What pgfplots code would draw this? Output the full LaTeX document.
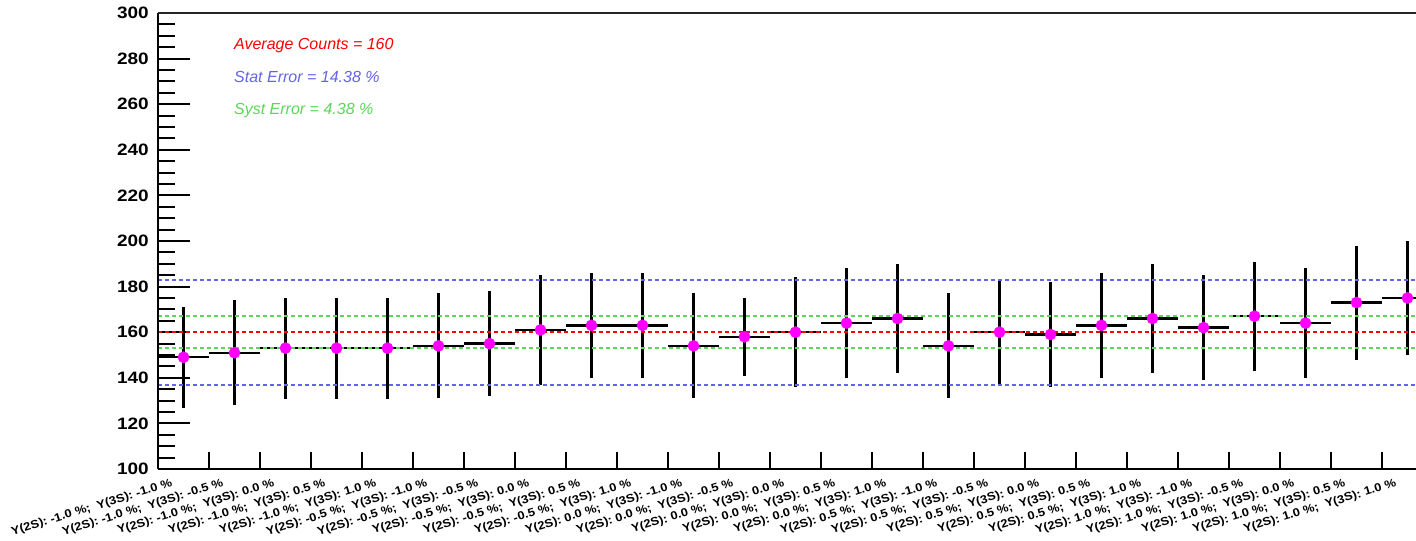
\documentclass[border=0pt]{standalone}
\usepackage{pgfplots}
\pgfplotsset{compat=1.18}
\usepackage{pgfplotstable}
\usepackage{fontspec}
\setmainfont{Liberation Sans}
\definecolor{statblue}{RGB}{100,100,230}
\definecolor{systgreen}{RGB}{90,215,90}
\definecolor{markmag}{RGB}{255,0,255}

% bin centre, counts, statistical error
\pgfplotstableread{
x     y    e
0.5   149  22.2
1.5   151  23.1
2.5   153  22.2
3.5   153  22.2
4.5   153  22.2
5.5   154  23.0
6.5   155  23.0
7.5   161  24.0
8.5   163  23.0
9.5   163  23.0
10.5  154  23.0
11.5  158  17.2
12.5  160  24.2
13.5  164  24.0
14.5  166  24.0
15.5  154  23.0
16.5  160  23.0
17.5  159  23.0
18.5  163  23.0
19.5  166  24.0
20.5  162  23.0
21.5  167  24.0
22.5  164  24.0
23.5  173  25.0
24.5  175  25.0
}\counts

\begin{document}
\begin{tikzpicture}[x=1bp,y=1bp]
\path[use as bounding box, clip] (0,0) rectangle (1416,541);
\begin{axis}[
  at={(158bp,72bp)}, anchor=south west,
  scale only axis, width=1275bp, height=456bp,
  xmin=0, xmax=25, ymin=100, ymax=300,
  clip=false,
  axis line style={draw=none},
  /pgf/number format/assume math mode=true,
  tick align=inside,
  xtick pos=bottom, ytick pos=left,
  ytick={100,120,...,300},
  minor y tick num=3,
  major tick length=32bp,
  minor tick length=17bp,
  major y tick style={black, line width=2bp},
  minor y tick style={black, line width=2bp},
  xtick={0.5,1.5,...,24.5},
  major x tick style={draw=none},
  minor xtick={1,2,...,24},
  minor x tick style={black, line width=2bp},
  xticklabels={
    {Y(2S): -1.0 \%;\ \ Y(3S): -1.0 \%},
    {Y(2S): -1.0 \%;\ \ Y(3S): -0.5 \%},
    {Y(2S): -1.0 \%;\ \ Y(3S): 0.0 \%},
    {Y(2S): -1.0 \%;\ \ Y(3S): 0.5 \%},
    {Y(2S): -1.0 \%;\ \ Y(3S): 1.0 \%},
    {Y(2S): -0.5 \%;\ \ Y(3S): -1.0 \%},
    {Y(2S): -0.5 \%;\ \ Y(3S): -0.5 \%},
    {Y(2S): -0.5 \%;\ \ Y(3S): 0.0 \%},
    {Y(2S): -0.5 \%;\ \ Y(3S): 0.5 \%},
    {Y(2S): -0.5 \%;\ \ Y(3S): 1.0 \%},
    {Y(2S): 0.0 \%;\ \ Y(3S): -1.0 \%},
    {Y(2S): 0.0 \%;\ \ Y(3S): -0.5 \%},
    {Y(2S): 0.0 \%;\ \ Y(3S): 0.0 \%},
    {Y(2S): 0.0 \%;\ \ Y(3S): 0.5 \%},
    {Y(2S): 0.0 \%;\ \ Y(3S): 1.0 \%},
    {Y(2S): 0.5 \%;\ \ Y(3S): -1.0 \%},
    {Y(2S): 0.5 \%;\ \ Y(3S): -0.5 \%},
    {Y(2S): 0.5 \%;\ \ Y(3S): 0.0 \%},
    {Y(2S): 0.5 \%;\ \ Y(3S): 0.5 \%},
    {Y(2S): 0.5 \%;\ \ Y(3S): 1.0 \%},
    {Y(2S): 1.0 \%;\ \ Y(3S): -1.0 \%},
    {Y(2S): 1.0 \%;\ \ Y(3S): -0.5 \%},
    {Y(2S): 1.0 \%;\ \ Y(3S): 0.0 \%},
    {Y(2S): 1.0 \%;\ \ Y(3S): 0.5 \%},
    {Y(2S): 1.0 \%;\ \ Y(3S): 1.0 \%}},
  xticklabel style={font=\fontsize{11.5bp}{12bp}\selectfont\bfseries,
    inner sep=0pt, anchor=north east, xshift=-13bp, yshift=-9bp,
    rotate=17, xscale=1.12},
  yticklabel style={font=\fontsize{16.5bp}{18bp}\selectfont\bfseries,
    inner sep=0pt, anchor=east, xshift=-9bp, xscale=1.15},
]
% counts per bin with bin width and statistical error
\addplot[only marks, mark=*, mark size=5.6bp,
  mark options={fill=markmag, draw=markmag},
  error bars/.cd, x dir=both, x fixed=0.5, y dir=both, y explicit,
  error mark=none, error bar style={black, line width=2.4bp}]
  table[x=x, y=y, y error=e] {\counts};

% average and error bands
\addplot[red, line width=1.8bp, dash pattern=on 4bp off 3bp] coordinates {(0,160) (25,160)};
\addplot[statblue, line width=1.8bp, dash pattern=on 4bp off 3bp] coordinates {(0,183.008) (25,183.008)};
\addplot[statblue, line width=1.8bp, dash pattern=on 4bp off 3bp] coordinates {(0,136.992) (25,136.992)};
\addplot[systgreen, line width=1.8bp, dash pattern=on 4bp off 3bp] coordinates {(0,167.008) (25,167.008)};
\addplot[systgreen, line width=1.8bp, dash pattern=on 4bp off 3bp] coordinates {(0,152.992) (25,152.992)};

% frame
\draw[black, line width=2bp] (rel axis cs:0,0) -- (rel axis cs:0,1);
\draw[black, line width=1.8bp] (rel axis cs:0,0) -- (rel axis cs:1,0);
\draw[black!85, line width=1.1bp] (rel axis cs:0,1) -- (rel axis cs:1,1);

\node[anchor=base west, text=red, font=\fontsize{16bp}{17bp}\selectfont\itshape, inner sep=0pt]
  at (axis cs:1.49,284.2) {Average Counts = 160};
\node[anchor=base west, text=statblue, font=\fontsize{16bp}{17bp}\selectfont\itshape, inner sep=0pt]
  at (axis cs:1.49,269.7) {Stat Error = 14.38 \%};
\node[anchor=base west, text=systgreen, font=\fontsize{16bp}{17bp}\selectfont\itshape, inner sep=0pt]
  at (axis cs:1.49,255.3) {Syst Error = 4.38 \%};
\end{axis}
\end{tikzpicture}
\end{document}
